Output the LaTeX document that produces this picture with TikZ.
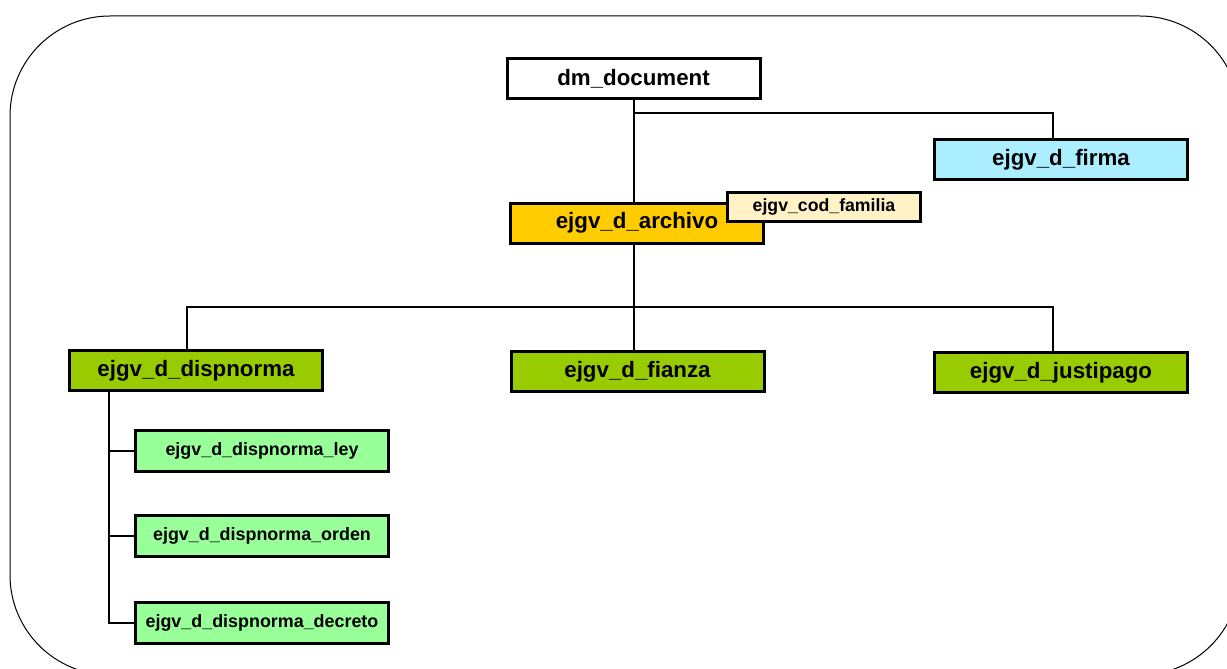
\documentclass[tikz,border=0pt]{standalone}
\usepackage{fontspec}
\setmainfont{Liberation Sans}
\begin{document}
\definecolor{docwhite}{HTML}{FFFFFF}
\definecolor{archgold}{HTML}{FFCC00}
\definecolor{famcream}{HTML}{FFF2C6}
\definecolor{firmacyan}{HTML}{AAEEFF}
\definecolor{leafgreen}{HTML}{99CC00}
\definecolor{subgreen}{HTML}{99FF99}
\begin{tikzpicture}[x=1pt,y=-1pt,
  table/.style={draw=black, line width=3pt, rectangle, inner sep=0pt,
    minimum width=253pt, minimum height=40pt,
    font=\fontsize{22.3}{24}\selectfont\bfseries},
  smalltable/.style={table, minimum height=41pt,
    font=\fontsize{17.9}{20}\selectfont\bfseries},
  tagbox/.style={table, minimum width=193pt, minimum height=29pt,
    font=\fontsize{17.7}{20}\selectfont\bfseries},
  link/.style={draw=black, line width=2.8pt, line cap=rect}]
\useasboundingbox (0,0) rectangle (1227,669);
% frame
\draw[line width=1pt, rounded corners=100pt] (10,16) rectangle (1240,675);

% branch points
\coordinate (topbus) at (634,113);
\coordinate (firmadrop) at (1053,113);
\coordinate (midbus) at (634,307);
\coordinate (dispdrop) at (187,307);
\coordinate (justidrop) at (1053,307);
\coordinate (trunk) at (109,0);

% tables
\node[table, fill=docwhite] (dm) at (633.5,79) {dm\_document};
\node[table, fill=firmacyan] (firma) at (1061,159.5) {ejgv\_d\_firma};
\node[table, fill=archgold] (arch) at (637,223) {ejgv\_d\_archivo};
\node[tagbox, fill=famcream] (fam) at (824,207) {ejgv\_cod\_familia};
\node[table, fill=leafgreen] (disp) at (196,370.5) {ejgv\_d\_dispnorma};
\node[table, fill=leafgreen] (fianza) at (637.5,371.5) {ejgv\_d\_fianza};
\node[table, fill=leafgreen] (justi) at (1061,372.5) {ejgv\_d\_justipago};
\node[smalltable, fill=subgreen] (ley) at (262,451) {ejgv\_d\_dispnorma\_ley};
\node[smalltable, fill=subgreen] (orden) at (262,536) {ejgv\_d\_dispnorma\_orden};
\node[smalltable, fill=subgreen] (decreto) at (262,623) {ejgv\_d\_dispnorma\_decreto};

% connectors
\draw[link] (dm.south -| topbus) -- (arch.north -| topbus);
\draw[link] (topbus) -- (firmadrop) -- (firmadrop |- firma.north);
\draw[link] (arch.south -| midbus) -- (fianza.north -| midbus);
\draw[link] (dispdrop |- disp.north) -- (dispdrop) -- (justidrop) -- (justidrop |- justi.north);
\draw[link] (trunk |- disp.south) -- (trunk |- decreto.west) -- (decreto.west);
\draw[link] (trunk |- ley.west) -- (ley.west);
\draw[link] (trunk |- orden.west) -- (orden.west);
\end{tikzpicture}
\end{document}
